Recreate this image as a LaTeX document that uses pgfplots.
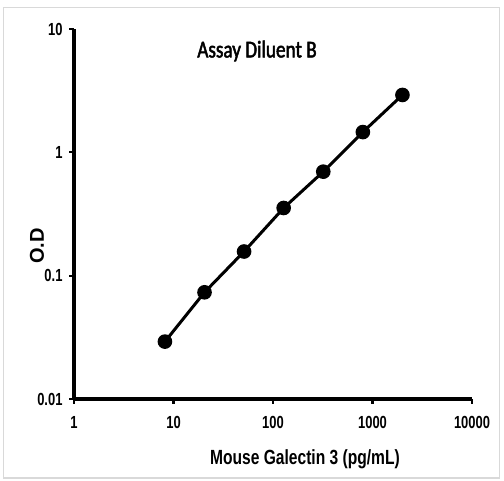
\documentclass[border=0pt]{standalone}
\usepackage{fontspec}
\setmainfont{Liberation Sans}
\newfontfamily\narrowfont[FakeStretch=0.74]{Liberation Sans}
\newfontfamily\labfont[FakeStretch=0.76]{Liberation Sans}
\newfontfamily\calfont[FakeStretch=0.8,FakeBold=2]{Carlito}
\usepackage{pgfplots}
\pgfplotsset{compat=1.18}
\begin{document}
\begin{tikzpicture}[x=1pt,y=1pt]
\path[use as bounding box] (0,0) rectangle (504,480);
\fill[white] (0,0) rectangle (504,480);
\draw[line width=1.5pt,color=black!15] (3.5,2) rectangle (499.5,472.5);
\begin{axis}[
  at={(74pt,81pt)}, anchor=south west,
  scale only axis, width=398pt, height=370pt,
  xmode=log, ymode=log,
  xmin=1, xmax=10000, ymin=0.01, ymax=10,
  axis x line*=bottom, axis y line*=left,
  axis line style={line width=3.2pt,-},
  xtick={1,10,100,1000,10000},
  xticklabels={1,10,100,1000,10000},
  ytick={0.01,0.1,1,10},
  yticklabels={0.01,0.1,1,10},
  minor tick length=0pt,
  minor tick style={draw=none},
  tick align=outside,
  major tick length=5pt,
  tick style={line width=2.2pt,black},
  /pgf/number format/assume math mode=true,
  ticklabel style={font=\narrowfont\bfseries\fontsize{17.5}{19}\selectfont},
  xticklabel style={yshift=-9pt},
  yticklabel style={xshift=-3pt},
  clip=false,
]
\addplot[line width=3pt, black, mark=*, mark size=5.8pt, mark options={fill=black}]
  coordinates {(8.2,0.0292) (20.5,0.0733) (51.2,0.157) (128,0.354) (320,0.697) (800,1.46) (2000,2.92)};
\end{axis}
\node[font=\calfont\fontsize{24}{26}\selectfont] at (257,429) {Assay Diluent B};
\node[font=\labfont\bfseries\fontsize{20.5}{22}\selectfont] at (305,21) {Mouse Galectin 3 (pg/mL)};
\node[font=\bfseries\fontsize{20}{22}\selectfont, rotate=90] at (37,234) {O.D};
\end{tikzpicture}
\end{document}
